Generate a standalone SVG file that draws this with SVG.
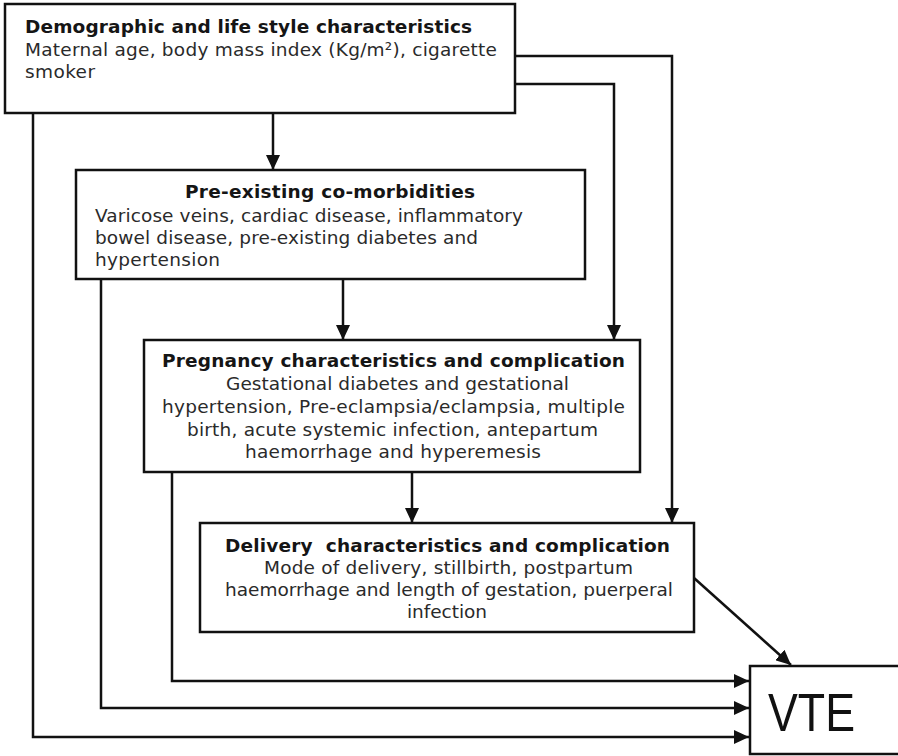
<svg xmlns="http://www.w3.org/2000/svg" width="898" height="756" viewBox="0 0 898 756">
  <style>
    .box { fill: #ffffff; stroke: #111111; stroke-width: 2.5; }
    .t { font-family: "DejaVu Sans", Verdana, sans-serif; font-size: 18.5px; font-weight: bold; fill: #151515; }
    .b { font-family: "DejaVu Sans", Verdana, sans-serif; font-size: 18.5px; fill: #2a2a2a; }
    .vte { font-family: "Liberation Sans", Arial, sans-serif; font-size: 54px; fill: #111111; }
    .c { fill: none; stroke: #111111; stroke-width: 2.5; }
  </style>
  <defs>
    <marker id="arr" markerUnits="userSpaceOnUse" markerWidth="16" markerHeight="14" refX="15" refY="7" orient="auto">
      <path d="M0,0 L15,7 L0,14 Z" fill="#111111"/>
    </marker>
  </defs>
  <rect width="898" height="756" fill="#ffffff"/>

  <g id="connectors">
    <path class="c" d="M273,113 V170" marker-end="url(#arr)"/>
    <path class="c" d="M343,279 V340" marker-end="url(#arr)"/>
    <path class="c" d="M412,472 V523" marker-end="url(#arr)"/>
    <path class="c" d="M515,84 H614 V340" marker-end="url(#arr)"/>
    <path class="c" d="M515,56 H672 V523" marker-end="url(#arr)"/>
    <path class="c" d="M694,578 L791,665" marker-end="url(#arr)"/>
    <path class="c" d="M172,472 V681 H749" marker-end="url(#arr)"/>
    <path class="c" d="M101,279 V708 H749" marker-end="url(#arr)"/>
    <path class="c" d="M33,113 V737 H749" marker-end="url(#arr)"/>
  </g>

  <g id="demographic">
    <rect class="box" x="5" y="4" width="510" height="109"/>
    <text class="t" x="25" y="33" textLength="447">Demographic and life style characteristics</text>
    <text class="b" x="25" y="56" textLength="472">Maternal age, body mass index (Kg/m²), cigarette</text>
    <text class="b" x="25" y="78" textLength="70">smoker</text>
  </g>

  <g id="comorbidities">
    <rect class="box" x="76" y="170" width="509" height="109"/>
    <text class="t" x="185" y="198" textLength="290">Pre-existing co-morbidities</text>
    <text class="b" x="95" y="222" textLength="428">Varicose veins, cardiac disease, inflammatory</text>
    <text class="b" x="95" y="244" textLength="383">bowel disease, pre-existing diabetes and</text>
    <text class="b" x="95" y="266" textLength="125">hypertension</text>
  </g>

  <g id="pregnancy">
    <rect class="box" x="144" y="340" width="496" height="132"/>
    <text class="t" x="162" y="367" textLength="463">Pregnancy characteristics and complication</text>
    <text class="b" x="226" y="390" textLength="343">Gestational diabetes and gestational</text>
    <text class="b" x="162" y="413" textLength="463">hypertension, Pre-eclampsia/eclampsia, multiple</text>
    <text class="b" x="187" y="436" textLength="411">birth, acute systemic infection, antepartum</text>
    <text class="b" x="245" y="458" textLength="296">haemorrhage and hyperemesis</text>
  </g>

  <g id="delivery">
    <rect class="box" x="200" y="523" width="494" height="109"/>
    <text class="t" x="225" y="552" textLength="445" xml:space="preserve">Delivery  characteristics and complication</text>
    <text class="b" x="264" y="574" textLength="369">Mode of delivery, stillbirth, postpartum</text>
    <text class="b" x="225" y="596" textLength="448">haemorrhage and length of gestation, puerperal</text>
    <text class="b" x="407" y="618" textLength="80">infection</text>
  </g>

  <g id="vte">
    <rect class="box" x="750" y="666" width="160" height="88"/>
    <text class="vte" x="768" y="731" textLength="87" lengthAdjust="spacingAndGlyphs">VTE</text>
  </g>
</svg>
